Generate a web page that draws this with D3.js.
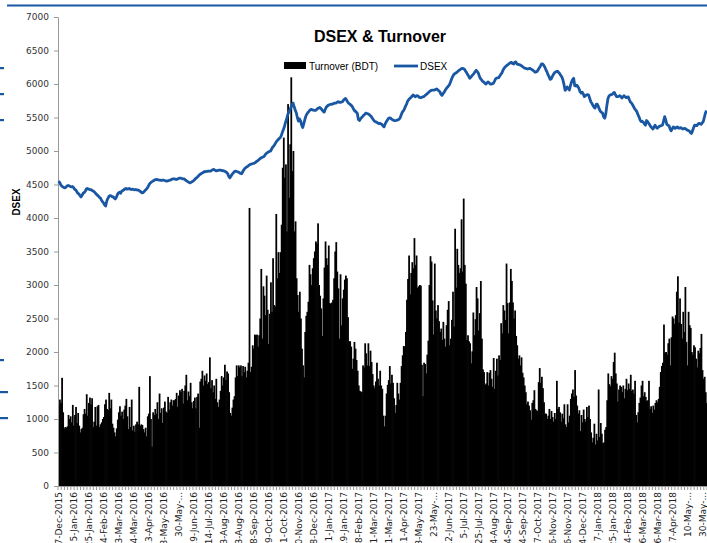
<!DOCTYPE html>
<html><head><meta charset="utf-8">
<script src="https://cdn.jsdelivr.net/npm/d3@7"></script>
<style>body{margin:0;background:#fff} svg{display:block}</style>
</head><body>
<svg id="c" width="707" height="543"></svg>
<script>
// Daily turnover (BDT, mn) — one value per trading day
const turnover = [
1200,1290,1240,1615,1100,860,880,870,890,1060,
1000,1040,950,1210,900,1060,1180,940,1090,900,
800,850,870,1070,1150,1080,1370,1050,1240,1320,
1220,1310,880,960,1180,900,1190,1210,880,920,
950,1000,1030,1220,1290,1150,1130,1390,1160,1290,
930,870,800,740,860,990,1100,1190,1050,1110,
1000,1140,1200,1300,1040,850,1180,880,1290,830,
900,810,920,960,920,1480,900,920,910,850,
800,870,740,1040,1080,1640,1000,590,1100,1060,
1150,1080,1250,1000,1380,1090,1160,940,1170,1260,
1110,1090,1330,1140,1250,1290,1200,1280,1280,1300,
1390,1180,1350,1430,1400,1450,1230,1420,1500,1660,
1280,1410,1340,1540,1250,1160,1270,1320,1160,1330,
1380,870,1560,1600,1720,1500,1650,1570,1680,1520,
1550,1920,1460,1580,1400,1500,1300,1600,1250,1180,
1290,1420,1640,1500,1620,1810,1580,1710,1680,1400,
1090,1050,1170,1290,1340,1620,1800,1640,1800,1770,
1800,1640,1790,1700,1780,1620,1720,1840,4150,1700,
1780,2100,2050,2260,2250,2260,2080,2250,2500,3240,
2200,2980,2840,2550,3140,2630,2120,2570,3040,2600,
3400,2700,2680,4060,3100,3490,3180,3490,3900,4750,
5200,4600,4800,3800,5700,4300,5100,6100,4700,5000,
3800,3950,3100,2850,2600,2900,2500,2050,1800,1620,
2300,2540,2600,2750,3300,3160,3000,3250,3400,3500,
3650,3620,3920,3000,2840,2650,2240,2800,3260,3650,
3400,3300,3590,2730,2720,2740,2780,3100,3500,3640,
3200,2950,2200,3160,2400,2800,2930,3080,3140,3100,
2520,2160,2160,2080,1750,1900,2150,2050,1880,1720,
1500,1420,1410,1400,1800,1770,2130,1980,1800,2130,
1790,2020,1850,1670,1500,1460,1560,1840,1600,1500,
1720,1500,1450,1050,890,1050,1380,1510,1580,1790,
1530,1660,1540,1310,1090,1210,1540,1380,1290,1540,
1790,1950,2090,2080,2300,2780,3090,3440,2860,3180,
3340,3250,3700,3300,3440,2960,2980,3000,2990,1810,
1340,1840,1820,1680,1960,2170,3000,3430,3350,2770,
2260,3320,2620,2500,2700,2460,2300,2350,2180,2450,
2200,2080,2400,2630,2760,2100,2200,2480,2900,2380,
3840,2960,3540,3300,3180,3250,3980,3200,4290,3300,
3020,2180,2250,2160,2130,1830,2010,2590,2250,2490,
2970,2800,2320,2580,3060,2200,1740,1700,1510,1530,
1700,1500,1690,1730,1600,1480,1910,1450,1720,1900,
1650,1950,1880,2430,2280,2700,2620,2480,3320,2730,
2280,2740,3240,3060,2740,2500,2620,2240,2100,1900,
1950,1800,1920,1690,1620,1500,1400,1220,1260,1200,
1130,990,1240,1280,1430,1150,1130,1120,1550,1760,
1540,1630,1460,1250,1080,1080,1000,1050,1150,1000,
1120,1030,960,1090,1000,1570,1150,1180,1100,960,
1080,1010,1220,920,880,1220,950,1050,1300,1380,
1440,1330,1730,1350,1200,1080,1130,820,1060,950,
1140,1000,960,1180,1030,1200,1000,800,650,720,
930,620,780,680,1440,730,940,780,640,650,
840,880,1280,1680,1520,1490,1640,1600,1850,1990,
1680,1530,1260,1440,1500,1480,1400,1500,1310,1450,
1600,1430,1530,1450,1660,1420,1440,1380,1570,1060,
950,1100,1240,1320,1500,1570,1340,1400,1330,1270,
1280,1570,1150,1190,1090,1200,1140,1240,1280,1250,
1300,1480,1700,1790,1840,2410,1990,2000,1960,2130,
2200,1800,2220,2530,2500,2420,2550,2900,3130,2440,
2800,2420,2200,2600,2300,2970,2150,1800,2600,2400,
2360,2000,1960,2100,2070,1900,1770,2020,1980,2060,
2270,1730,1600,1630,1400,1240
];
// DSEX index — one value per trading day
const dsex = [
4550,4530,4500,4475,4465,4455,4450,4460,4480,4485,
4480,4470,4465,4470,4455,4430,4420,4395,4370,4360,
4335,4315,4340,4370,4380,4400,4435,4440,4430,4425,
4425,4415,4405,4395,4380,4360,4345,4330,4310,4300,
4270,4245,4225,4195,4180,4250,4290,4320,4335,4330,
4320,4315,4300,4285,4310,4350,4375,4385,4370,4400,
4410,4420,4435,4440,4430,4435,4440,4430,4425,4430,
4425,4420,4425,4420,4415,4415,4400,4390,4375,4380,
4395,4415,4430,4450,4480,4510,4525,4540,4550,4560,
4570,4575,4575,4570,4565,4565,4560,4565,4565,4560,
4555,4550,4555,4560,4565,4570,4580,4585,4585,4580,
4575,4580,4590,4595,4595,4590,4585,4585,4575,4560,
4550,4540,4530,4525,4535,4545,4555,4570,4590,4600,
4615,4635,4650,4660,4670,4680,4690,4690,4695,4695,
4700,4700,4700,4710,4720,4725,4715,4705,4705,4710,
4715,4715,4710,4705,4705,4700,4690,4680,4660,4620,
4600,4625,4650,4670,4690,4700,4695,4690,4685,4675,
4665,4660,4690,4720,4740,4755,4765,4775,4790,4800,
4805,4810,4815,4820,4830,4845,4855,4870,4885,4895,
4905,4910,4920,4945,4965,4975,4985,4995,5000,5030,
5060,5075,5100,5130,5150,5170,5185,5200,5230,5280,
5320,5370,5430,5480,5540,5580,5615,5650,5690,5715,
5660,5610,5570,5500,5445,5480,5450,5390,5350,5410,
5470,5525,5555,5575,5595,5615,5620,5615,5610,5605,
5605,5620,5635,5640,5650,5635,5615,5595,5580,5620,
5655,5670,5685,5690,5695,5700,5700,5710,5715,5715,
5725,5735,5730,5725,5730,5735,5755,5775,5785,5760,
5730,5710,5700,5685,5670,5640,5610,5595,5580,5560,
5470,5455,5480,5500,5515,5535,5550,5565,5560,5555,
5545,5530,5515,5490,5465,5445,5435,5430,5420,5410,
5413,5405,5395,5375,5360,5405,5435,5460,5485,5495,
5490,5477,5465,5458,5453,5455,5460,5463,5475,5495,
5540,5580,5600,5630,5670,5700,5745,5765,5785,5800,
5815,5835,5825,5810,5820,5826,5815,5800,5795,5800,
5808,5812,5825,5840,5850,5865,5882,5895,5905,5910,
5910,5910,5918,5925,5915,5900,5885,5850,5830,5855,
5875,5905,5930,5950,5970,5990,6030,6075,6110,6140,
6155,6165,6175,6190,6205,6215,6228,6234,6230,6220,
6195,6170,6140,6115,6085,6100,6124,6140,6159,6185,
6205,6185,6160,6115,6080,6060,6040,6030,6015,5998,
6015,6032,6020,6000,5998,6005,6010,6040,6075,6088,
6092,6095,6120,6145,6165,6205,6234,6255,6270,6280,
6295,6308,6318,6323,6305,6298,6325,6330,6300,6292,
6288,6284,6275,6262,6250,6238,6232,6228,6224,6228,
6234,6225,6215,6205,6190,6175,6180,6190,6215,6244,
6270,6300,6300,6280,6255,6215,6185,6140,6110,6070,
6075,6110,6140,6165,6178,6188,6190,6172,6155,6128,
6105,6060,5990,5905,5925,5955,5935,5910,5975,6030,
6065,6085,5975,5970,5982,5960,5930,5885,5865,5878,
5850,5812,5825,5838,5842,5835,5785,5735,5712,5680,
5655,5640,5695,5700,5665,5625,5590,5578,5565,5510,
5490,5555,5680,5780,5820,5836,5842,5846,5865,5875,
5840,5812,5811,5815,5825,5815,5790,5808,5826,5810,
5796,5805,5808,5765,5730,5715,5690,5660,5630,5610,
5587,5545,5510,5465,5438,5445,5430,5405,5385,5455,
5440,5415,5390,5363,5345,5328,5360,5385,5355,5340,
5355,5368,5376,5380,5388,5450,5512,5460,5398,5385,
5378,5330,5300,5330,5360,5345,5338,5355,5358,5340,
5342,5348,5338,5328,5335,5338,5325,5312,5305,5298,
5275,5262,5300,5350,5385,5382,5378,5400,5413,5405,
5398,5420,5440,5500,5565,5605
];
// Category labels shown every 14th trading day
const labelDates = [
"17-Dec-2015","5-Jan-2016","25-Jan-2016","14-Feb-2016","3-Mar-2016","24-Mar-2016",
"13-Apr-2016","8-May-2016","30-May-...","19-Jun-2016","14-Jul-2016","3-Aug-2016",
"23-Aug-2016","18-Sep-2016","9-Oct-2016","31-Oct-2016","20-Nov-2016","8-Dec-2016",
"1-Jan-2017","19-Jan-2017","8-Feb-2017","1-Mar-2017","21-Mar-2017","11-Apr-2017",
"3-May-2017","23-May-...","12-Jun-2017","5-Jul-2017","25-Jul-2017","14-Aug-2017",
"4-Sep-2017","24-Sep-2017","17-Oct-2017","6-Nov-2017","26-Nov-2017","14-Dec-2017",
"7-Jan-2018","25-Jan-2018","14-Feb-2018","6-Mar-2018","26-Mar-2018","17-Apr-2018",
"10-May-...","30-May-..."
];
const labelStep = 14;
const minorTickStep = 3;
const yTicks = [0,500,1000,1500,2000,2500,3000,3500,4000,4500,5000,5500,6000,6500,7000];
const seriesNames = ["Turnover (BDT)", "DSEX"];

const BLUE = "#1957a3";
const svg = d3.select("#c");
const N = dsex.length;
const x = d3.scaleBand().domain(d3.range(N)).range([58, 707]).padding(0);
const y = d3.scaleLinear().domain([0, 7000]).range([486, 17]);
const bw = x.bandwidth();

// page decorations
svg.append("line").attr("x1", 7).attr("x2", 707).attr("y1", 5.5).attr("y2", 5.5)
  .attr("stroke", BLUE).attr("stroke-width", 2);
[[68,4],[94,4],[120,4],[360,4],[392,8],[418,8]].forEach(([yy,w]) => {
  svg.append("rect").attr("x", 0).attr("y", yy - 1).attr("width", w).attr("height", 2.2).attr("fill", BLUE);
});

// bars
svg.append("g").selectAll("rect").data(turnover).join("rect")
  .attr("x", (d, i) => x(i)).attr("width", bw + 0.7)
  .attr("y", d => y(d)).attr("height", d => y(0) - y(d))
  .attr("fill", "#000");

// y axis
const ya = svg.append("g").attr("transform", "translate(58,0)")
  .call(d3.axisLeft(y).tickValues(yTicks).tickSize(4).tickSizeOuter(0).tickPadding(5).tickFormat(d3.format("d")));
ya.select(".domain").attr("stroke", "#999");
ya.selectAll(".tick line").attr("stroke", "#999");
ya.selectAll(".tick text").attr("fill", "#333").style("font-family", "DejaVu Sans").style("font-size", "9px");

// x axis
svg.append("line").attr("x1", 58).attr("x2", 707).attr("y1", 486.5).attr("y2", 486.5).attr("stroke", "#999");
svg.append("g").selectAll("line").data(d3.range(0, N + 1, minorTickStep)).join("line")
  .attr("x1", i => (i < N ? x(i) : 707)).attr("x2", i => (i < N ? x(i) : 707))
  .attr("y1", 486.5).attr("y2", 490).attr("stroke", "#999");
svg.append("g").selectAll("text").data(labelDates).join("text")
  .attr("transform", (d, k) => `translate(${x(k * labelStep) + bw / 2},492) rotate(-90)`)
  .attr("dy", "0.35em").attr("text-anchor", "end")
  .style("font-family", "DejaVu Sans").style("font-size", "9px").attr("fill", "#222")
  .text(d => d);

// DSEX line
svg.append("path").datum(dsex)
  .attr("d", d3.line().x((d, i) => x(i) + bw / 2).y(d => y(d)))
  .attr("fill", "none").attr("stroke", BLUE).attr("stroke-width", 2.8).attr("stroke-linejoin", "round");

// y label
svg.append("text").attr("transform", "translate(20,202) rotate(-90)").attr("text-anchor", "middle")
  .style("font-family", "Liberation Sans, Arial").style("font-size", "10px").style("font-weight", "bold")
  .text("DSEX");

// title
svg.append("text").attr("x", 380).attr("y", 42).attr("text-anchor", "middle")
  .style("font-family", "Liberation Sans, Arial").style("font-size", "16px").style("font-weight", "bold")
  .text("DSEX & Turnover");

// legend
const lg = svg.append("g").style("font-family", "Liberation Sans, Arial").style("font-size", "10px");
lg.append("rect").attr("x", 284).attr("y", 62).attr("width", 22).attr("height", 7).attr("fill", "#000");
lg.append("text").attr("x", 309).attr("y", 69.5).text(seriesNames[0]);
lg.append("line").attr("x1", 394).attr("x2", 418).attr("y1", 66).attr("y2", 66).attr("stroke", BLUE).attr("stroke-width", 2.8);
lg.append("text").attr("x", 420).attr("y", 69.5).text(seriesNames[1]);
</script>
</body></html>
